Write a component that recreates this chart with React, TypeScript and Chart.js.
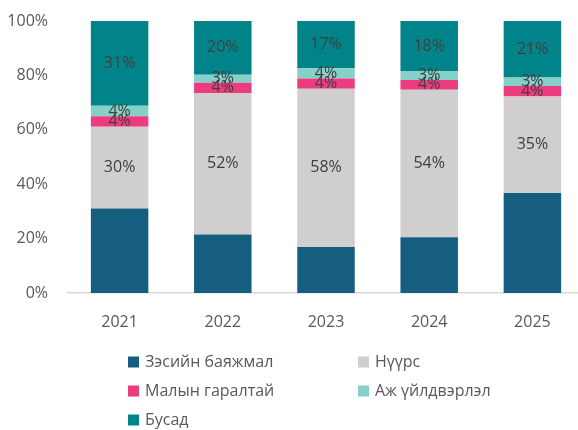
import React, { useEffect, useRef } from "react";
import { Chart, registerables } from "chart.js";

Chart.register(...registerables);

const years = ["2021", "2022", "2023", "2024", "2025"];
const concentrate = [31.1, 21.5, 16.9, 20.5, 36.8];
const coal = [30.0, 52.0, 58.2, 54.2, 35.4];
const livestock = [3.9, 3.8, 3.8, 3.6, 3.9];
const industry = [3.8, 2.9, 3.7, 3.3, 3.1];
const other = [31.2, 19.8, 17.4, 18.4, 20.8];

const seriesNames = ["Зэсийн баяжмал", "Нүүрс", "Малын гаралтай", "Аж үйлдвэрлэл", "Бусад"];
const seriesColors = ["#165e80", "#d0cecf", "#ec3c80", "#86d0ca", "#00848a"];
const yTicks = [0, 20, 40, 60, 80, 100];

const FONT = "'Open Sans', 'Noto Sans', sans-serif";

const valueLabels = {
  id: "valueLabels",
  afterDatasetsDraw(chart: any) {
    const ctx = chart.ctx;
    ctx.save();
    ctx.font = `16px ${FONT}`;
    ctx.fillStyle = "#404040";
    ctx.textAlign = "center";
    ctx.textBaseline = "middle";
    chart.data.datasets.forEach((ds: any, di: number) => {
      if (di === 0) return;
      const meta = chart.getDatasetMeta(di);
      meta.data.forEach((el: any, i: number) => {
        const p = el.getProps(["x", "y", "base"], true);
        ctx.fillText(Math.round(ds.data[i]) + "%", p.x, (p.y + p.base) / 2);
      });
    });
    ctx.restore();
  },
};

const gridLegend = {
  id: "gridLegend",
  afterDraw(chart: any) {
    const ctx = chart.ctx;
    const top = chart.chartArea.bottom;
    const colX = [128, 358];
    const rowY = [top + 69, top + 98, top + 127];
    ctx.save();
    ctx.font = `16px ${FONT}`;
    ctx.textBaseline = "middle";
    ctx.textAlign = "left";
    chart.data.datasets.forEach((ds: any, i: number) => {
      const x = colX[i % 2];
      const y = rowY[Math.floor(i / 2)];
      ctx.fillStyle = ds.backgroundColor;
      ctx.fillRect(x, y - 5.5, 11, 11);
      ctx.fillStyle = "#595959";
      ctx.fillText(ds.label, x + 17, y);
    });
    ctx.restore();
  },
};

export default function App() {
  const ref = useRef<HTMLCanvasElement>(null);
  useEffect(() => {
    if (!ref.current) return;
    const values = [concentrate, coal, livestock, industry, other];
    const chart = new Chart(ref.current, {
      type: "bar",
      data: {
        labels: years,
        datasets: values.map((d, i) => ({
          label: seriesNames[i],
          data: d,
          backgroundColor: seriesColors[i],
          borderWidth: 0,
          categoryPercentage: 1,
          barPercentage: 0.557,
        })),
      },
      options: {
        responsive: false,
        animation: false,
        devicePixelRatio: 1,
        layout: { padding: { top: 21, left: 0, right: 0, bottom: 97 } },
        plugins: { legend: { display: false }, tooltip: { enabled: false } },
        scales: {
          x: {
            stacked: true,
            grid: { display: false, drawTicks: false },
            border: { display: true, color: "#d9d9d9", width: 1.5 },
            ticks: { color: "#595959", font: { family: FONT, size: 16 }, padding: 20 },
            afterFit: (s: any) => { s.height = 40; },
          },
          y: {
            stacked: true,
            min: 0,
            max: 100,
            afterBuildTicks: (s: any) => { s.ticks = yTicks.map((v) => ({ value: v })); },
            grid: { display: false, drawTicks: true, tickLength: 20 },
            border: { display: false },
            ticks: {
              color: "#595959",
              font: { family: FONT, size: 16 },
              padding: 0,
              callback: (v: any) => v + "%",
            },
            afterFit: (s: any) => { s.width = 68; },
          },
        },
      },
      plugins: [valueLabels, gridLegend],
    });
    return () => chart.destroy();
  }, []);
  return (
    <div style={{ position: "fixed", left: 0, top: 0, width: 578, height: 430, overflow: "hidden", background: "#fff" }}>
      <canvas ref={ref} width={584} height={430} style={{ display: "block" }} />
    </div>
  );
}
